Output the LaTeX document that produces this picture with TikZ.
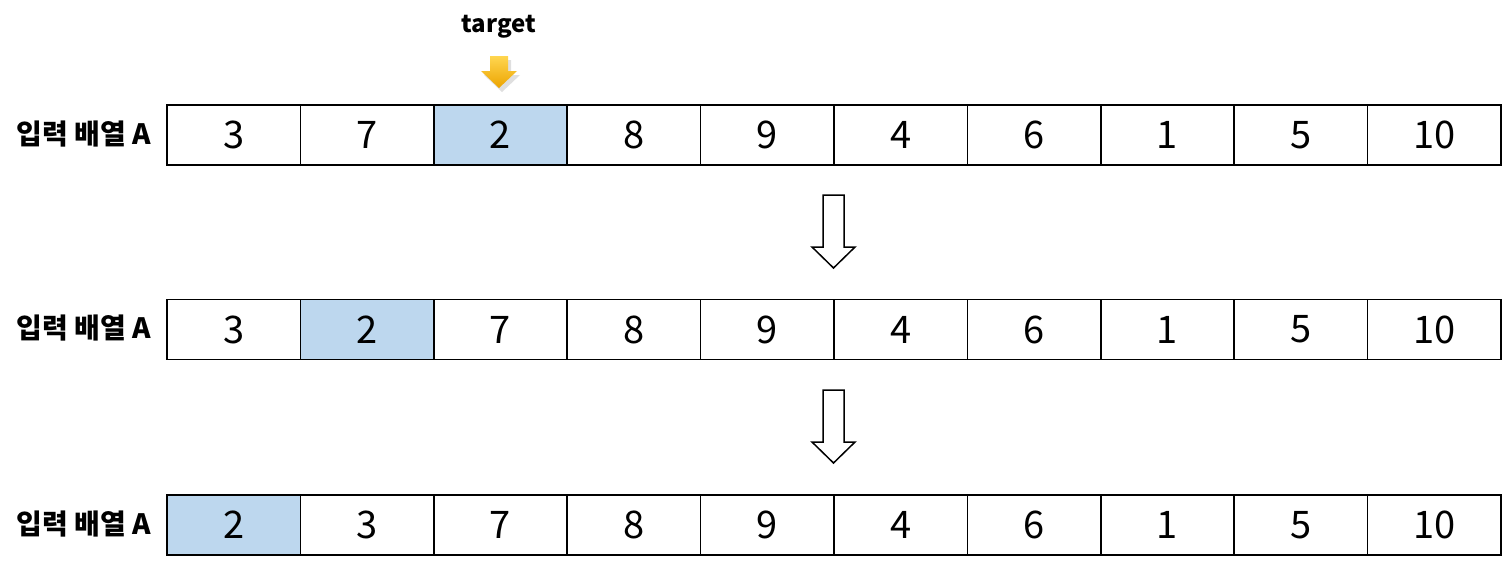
\documentclass[tikz,border=0pt]{standalone}
\usepackage{fontspec}
\setmainfont{Noto Sans CJK KR}
\definecolor{hl}{RGB}{189,215,238}
\definecolor{ytop}{RGB}{255,214,80}
\definecolor{ybot}{RGB}{236,164,0}
\tikzset{
  cellbox/.style={draw=black, line width=1.6pt, minimum width=133.4pt, minimum height=60pt, inner sep=0pt, font=\fontsize{38}{38}\selectfont, fill=white},
  hlcell/.style={cellbox, fill=hl},
  rowlabel/.style={font=\bfseries\fontsize{28}{28}\selectfont, inner sep=0pt},
  blockarrow/.style={draw=black, line width=1.5pt, fill=white, line join=miter}
}
\begin{document}
\begin{tikzpicture}[x=1pt,y=-1pt]
\useasboundingbox (0,0) rectangle (1503,570);
% rows
\foreach \r/\yc/\vals/\h in {1/134/{3,7,2,8,9,4,6,1,5,10}/2, 2/328.5/{3,2,7,8,9,4,6,1,5,10}/1, 3/524/{2,3,7,8,9,4,6,1,5,10}/0}{
  \node[rowlabel] (lab\r) at (84,\yc) {입력 배열 A};
  \foreach \v [count=\i from 0] in \vals {
    \ifnum\i=\h
      \node[hlcell] (c\r-\i) at ({167+133.4*(\i+0.5)},\yc+1) {\v};
    \else
      \node[cellbox] (c\r-\i) at ({167+133.4*(\i+0.5)},\yc+1) {\v};
    \fi
  }
}
% target label and arrow
\node[font=\bfseries\fontsize{24}{24}\selectfont, inner sep=0pt] (target) at (499,27) {target};
\fill[black!25, opacity=0.5] (493,60) -- (511,60) -- (511,75) -- (520,75) -- (502,92) -- (484,75) -- (493,75) -- cycle;
\shade[top color=ytop, bottom color=ybot] (490,56) -- (508,56) -- (508,71) -- (517,71) -- (499,88) -- (481,71) -- (490,71) -- cycle;
% block arrows
\draw[blockarrow] (823,195) -- (844,195) -- (844,247) -- (855,247) -- (833.5,268) -- (812,247) -- (823,247) -- cycle;
\draw[blockarrow] (823,390) -- (844,390) -- (844,442) -- (855,442) -- (833.5,463) -- (812,442) -- (823,442) -- cycle;
\end{tikzpicture}
\end{document}
